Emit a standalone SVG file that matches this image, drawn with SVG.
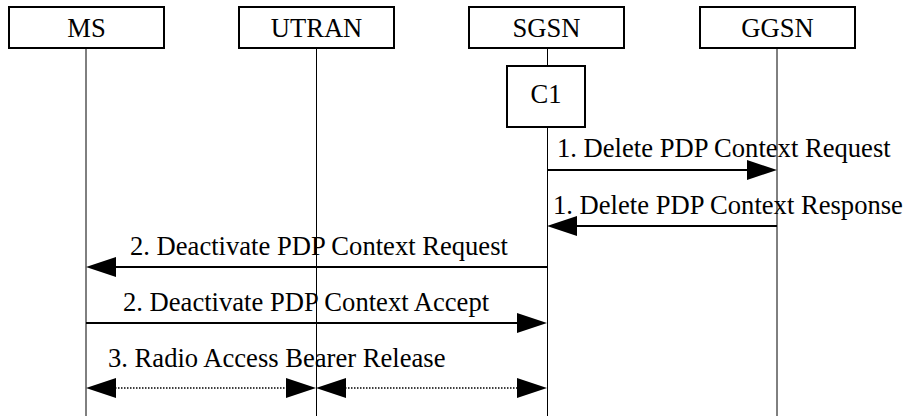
<svg xmlns="http://www.w3.org/2000/svg" width="907" height="416" viewBox="0 0 907 416">
<style>
text{font-family:"Liberation Serif","Times New Roman",serif;font-size:26.6px;fill:#000}
.box{fill:#fff;stroke:#000;stroke-width:2}
.life{stroke:#000;stroke-width:1;fill:none}
.msg{stroke:#000;stroke-width:2;fill:none}
.dot{stroke:#000;stroke-width:1.5;stroke-dasharray:1.5 1.5;fill:none}
.head{fill:#000;stroke:none}
</style>
<g id="lifelines">
<line class="life" x1="86" y1="48" x2="86" y2="416"/>
<line class="life" x1="316.5" y1="48" x2="316.5" y2="416"/>
<line class="life" x1="547.5" y1="48" x2="547.5" y2="416"/>
<line class="life" x1="777" y1="48" x2="777" y2="416"/>
</g>
<g id="MS"><rect class="box" x="9" y="7" width="155" height="41"/><text x="86.5" y="37" text-anchor="middle">MS</text></g>
<g id="UTRAN"><rect class="box" x="239" y="7" width="155" height="41"/><text x="316.5" y="37" text-anchor="middle">UTRAN</text></g>
<g id="SGSN"><rect class="box" x="469" y="7" width="155" height="41"/><text x="546.5" y="37" text-anchor="middle">SGSN</text></g>
<g id="GGSN"><rect class="box" x="700" y="7" width="155" height="41"/><text x="777.5" y="37" text-anchor="middle">GGSN</text></g>
<g id="C1"><rect class="box" x="507" y="66" width="78" height="61"/><text x="546" y="103" text-anchor="middle">C1</text></g>
<g id="connectors">
<line class="msg" x1="547" y1="170" x2="750" y2="170"/>
<polygon class="head" points="777,170 747,160 747,180"/>
<text x="557" y="157">1. Delete PDP Context Request</text>
<line class="msg" x1="777" y1="226" x2="574" y2="226"/>
<polygon class="head" points="547,226 577,216 577,236"/>
<text x="553" y="214">1. Delete PDP Context Response</text>
<line class="msg" x1="547" y1="267" x2="113" y2="267"/>
<polygon class="head" points="86,267 116,257 116,277"/>
<text x="130" y="255">2. Deactivate PDP Context Request</text>
<line class="msg" x1="86" y1="323" x2="520" y2="323"/>
<polygon class="head" points="547,323 517,313 517,333"/>
<text x="123" y="311">2. Deactivate PDP Context Accept</text>
<line class="dot" x1="115" y1="388" x2="288" y2="388"/>
<polygon class="head" points="86,388 116,378 116,398"/>
<polygon class="head" points="316,388 286,378 286,398"/>
<line class="dot" x1="345" y1="388" x2="518" y2="388"/>
<polygon class="head" points="316,388 346,378 346,398"/>
<polygon class="head" points="547,388 517,378 517,398"/>
<text x="108" y="367">3. Radio Access Bearer Release</text>
</g>
</svg>
